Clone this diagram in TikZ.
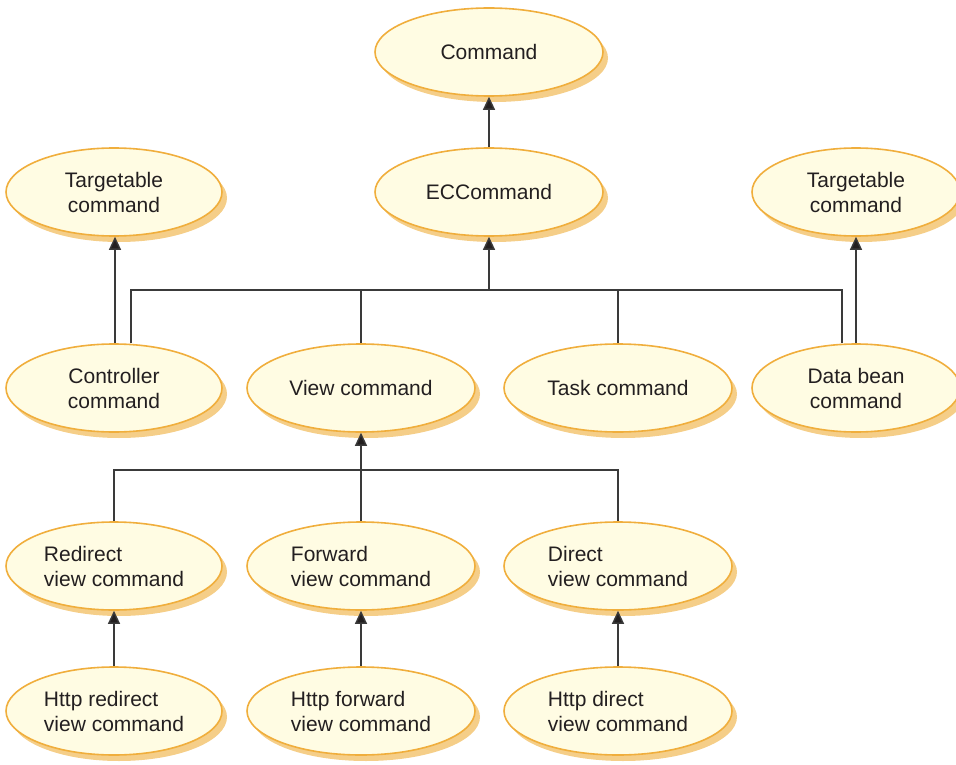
\documentclass[tikz,border=0pt]{standalone}
\usepackage{fontspec}
\setmainfont{Liberation Sans}
\usetikzlibrary{shapes.geometric,arrows.meta,shadows}
\definecolor{bubblefill}{HTML}{FFFCE3}
\definecolor{bubbleedge}{HTML}{F0AE3C}
\definecolor{bubbleshade}{HTML}{F5CE88}
\definecolor{linkgray}{HTML}{3A3A3A}
\definecolor{inkgray}{HTML}{231F20}
\begin{document}
\begin{tikzpicture}[x=1pt,y=-1pt,
  cmd/.style={ellipse, draw=bubbleedge, line width=1.6pt, fill=bubblefill,
    minimum width=228pt, minimum height=88pt, inner sep=0pt,
    text=inkgray, font=\fontsize{21}{25}\selectfont, align=center,
    drop shadow={shadow xshift=5pt, shadow yshift=-6pt, fill=bubbleshade, opacity=1}},
  narrow/.style={minimum width=216pt},
  edgecol/.style={minimum width=208pt},
  link/.style={draw=linkgray, line width=1.4pt},
  isa/.style={link, -{Triangle[length=13pt,width=12pt,fill=inkgray]}}]
\useasboundingbox (0,0) rectangle (956,765);

% top of the hierarchy
\node[cmd] (command) at (489,52) {Command};
\node[cmd] (ec) at (489,192) {ECCommand};
\node[cmd,narrow] (tgtL) at (114,192) {Targetable\\command};
\node[cmd,edgecol] (tgtR) at (856,192) {Targetable\\command};

% command types
\node[cmd,narrow] (ctrl) at (114,388) {Controller\\command};
\node[cmd] (view) at (361,388) {View command};
\node[cmd] (task) at (618,388) {Task command};
\node[cmd,edgecol] (data) at (856,388) {Data bean\\command};

% view commands
\node[cmd,narrow,align=left] (redir) at (114,566) {Redirect\\view command};
\node[cmd,align=left] (fwd) at (361,566) {Forward\\view command};
\node[cmd,align=left] (direct) at (618,566) {Direct\\view command};

% http view commands
\node[cmd,narrow,align=left] (hredir) at (114,711) {Http redirect\\view command};
\node[cmd,align=left] (hfwd) at (361,711) {Http forward\\view command};
\node[cmd,align=left] (hdirect) at (618,711) {Http direct\\view command};

% junction points
\coordinate (busEC) at (489,290);
\coordinate (busView) at (361,470);

\draw[isa] (ec) -- (command);
\draw[isa] (busEC) -- (ec);
\draw[link] (ctrl.north -| 131,0) |- (busEC) -| (data.north -| 842,0);
\draw[link] (view) -- (view |- busEC);
\draw[link] (task) -- (task |- busEC);
\draw[isa] (ctrl.north -| 115,0) -- (tgtL.south -| 115,0);
\draw[isa] (data.north) -- (tgtR.south);

\draw[isa] (busView) -- (view);
\draw[link] (redir) |- (busView) -| (direct);
\draw[link] (fwd) -- (busView);

\draw[isa] (hredir) -- (redir);
\draw[isa] (hfwd) -- (fwd);
\draw[isa] (hdirect) -- (direct);
\end{tikzpicture}
\end{document}
